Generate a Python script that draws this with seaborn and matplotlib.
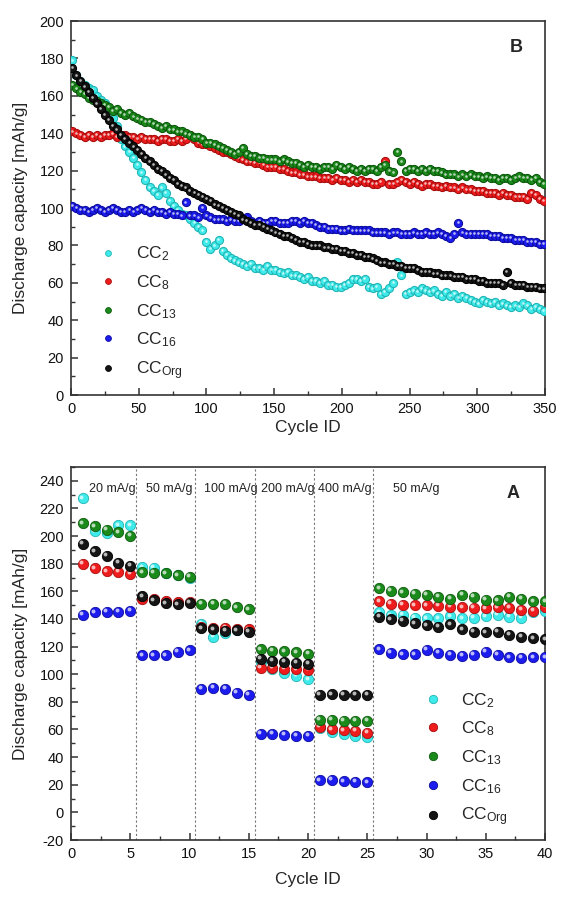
import numpy as np
import pandas as pd
import matplotlib
matplotlib.use("Agg")
import matplotlib.pyplot as plt
from matplotlib.lines import Line2D
from matplotlib.transforms import ScaledTranslation
from matplotlib.ticker import MultipleLocator
import seaborn as sns

sns.set_theme(style="white")
plt.rcParams["font.family"] = ["Liberation Sans", "DejaVu Sans"]
plt.rcParams["mathtext.fontset"] = "custom"
plt.rcParams["mathtext.rm"] = "Liberation Sans"
plt.rcParams["mathtext.it"] = "Liberation Sans:italic"
plt.rcParams["mathtext.bf"] = "Liberation Sans:bold"
plt.rcParams["axes.unicode_minus"] = False

# ---------------- data ----------------
series_names = ["CC2", "CC8", "CC13", "CC16", "CCOrg"]
series_labels = [r"CC$_{\mathrm{2}}$", r"CC$_{\mathrm{8}}$", r"CC$_{\mathrm{13}}$",
                 r"CC$_{\mathrm{16}}$", r"CC$_{\mathrm{Org}}$"]
colors = ["#3eeaea", "#ee1c1c", "#1a8a1a", "#1c1cee", "#151515"]
edge_colors = ["#22b5b5", "#a80e0e", "#0d5a0d", "#0c0ca0", "#000000"]

# Panel B: long-term cycling (every 3rd cycle)
cycles_long = list(range(1, 350, 3))
cc2_long = [179, 171, 168, 166, 164, 163, 160, 158, 156, 151,
            148, 144, 137, 133, 130, 127, 123, 119, 115, 111,
            109, 107, 111, 108, 104, 101, 99, 97, 96, 94,
            92, 90, 88, 82, 78, 80, 83, 77, 75, 73,
            72, 71, 70, 69, 70, 68, 68, 67, 69, 67,
            67, 66, 65, 66, 64, 64, 63, 62, 63, 61,
            61, 60, 61, 59, 59, 58, 58, 59, 60, 62,
            62, 61, 62, 58, 57, 58, 54, 55, 57, 60,
            71, 64, 54, 55, 56, 55, 57, 56, 55, 56,
            54, 53, 55, 53, 54, 52, 53, 52, 51, 50,
            49, 51, 50, 49, 50, 48, 49, 48, 47, 48,
            47, 49, 48, 46, 47, 46, 45]
cc8_long = [141, 140, 139, 138, 139, 138, 139, 138, 139, 139,
            140, 138, 139, 139, 138, 138, 137, 138, 137, 137,
            137, 136, 137, 137, 136, 136, 137, 136, 137, 139,
            137, 135, 134, 134, 133, 132, 131, 130, 130, 129,
            128, 127, 126, 125, 125, 124, 124, 123, 122, 122,
            122, 121, 121, 120, 119, 119, 118, 118, 117, 117,
            117, 116, 116, 116, 115, 116, 115, 115, 114, 115,
            114, 115, 114, 114, 113, 113, 114, 125, 113, 113,
            114, 115, 114, 113, 114, 113, 112, 113, 113, 112,
            112, 111, 112, 111, 111, 110, 111, 110, 110, 109,
            109, 109, 108, 108, 108, 107, 108, 107, 107, 106,
            106, 106, 105, 108, 107, 105, 104]
cc13_long = [166, 164, 162, 161, 159, 158, 157, 156, 155, 154,
             152, 153, 151, 150, 151, 149, 148, 147, 146, 146,
             145, 144, 143, 144, 142, 142, 141, 141, 140, 139,
             138, 138, 137, 135, 135, 134, 133, 132, 131, 130,
             129, 130, 132, 129, 128, 128, 127, 127, 126, 126,
             126, 125, 126, 125, 124, 124, 123, 122, 123, 122,
             122, 121, 122, 122, 121, 123, 122, 121, 122, 121,
             120, 121, 120, 121, 121, 120, 122, 123, 120, 119,
             130, 125, 120, 121, 121, 120, 121, 120, 121, 120,
             120, 119, 118, 118, 118, 117, 118, 117, 118, 117,
             117, 116, 117, 116, 116, 115, 116, 116, 115, 116,
             117, 116, 116, 115, 116, 114, 113]
cc16_long = [101, 100, 99, 99, 98, 99, 100, 99, 98, 99,
             100, 99, 98, 98, 99, 98, 99, 100, 99, 98,
             99, 98, 98, 97, 98, 97, 97, 96, 103, 96,
             96, 95, 100, 96, 95, 94, 94, 94, 93, 94,
             93, 93, 94, 95, 93, 92, 93, 92, 92, 93,
             93, 92, 92, 92, 93, 93, 92, 93, 92, 92,
             91, 90, 90, 89, 89, 89, 88, 88, 89, 88,
             88, 88, 88, 88, 87, 87, 87, 87, 86, 87,
             87, 86, 86, 86, 87, 86, 86, 87, 86, 86,
             87, 86, 85, 84, 86, 92, 87, 86, 86, 86,
             86, 86, 86, 85, 85, 85, 84, 84, 84, 83,
             83, 83, 82, 82, 82, 81, 81]
ccorg_long = [175, 171, 168, 165, 162, 159, 156, 153, 150, 147,
              144, 142, 139, 137, 135, 133, 131, 129, 127, 125,
              123, 121, 120, 118, 116, 115, 113, 112, 111, 109,
              108, 107, 106, 105, 104, 102, 101, 100, 99, 98,
              97, 96, 94, 93, 92, 91, 91, 90, 89, 88,
              87, 86, 85, 85, 84, 83, 82, 82, 81, 80,
              80, 80, 79, 79, 78, 78, 77, 77, 76, 76,
              75, 75, 74, 74, 73, 72, 71, 71, 70, 70,
              69, 69, 68, 68, 68, 67, 66, 66, 66, 65,
              65, 64, 64, 64, 63, 63, 63, 62, 62, 62,
              61, 61, 60, 60, 60, 60, 59, 66, 60, 59,
              59, 59, 58, 58, 58, 57, 57]

# Panel A: rate capability
cycles_rate = list(range(1, 41))
cc2_rate = [227.3, 203.4, 202.4, 208, 208, 177.5, 177, 173, 171.7, 169.8,
            136.5, 127, 129.5, 132, 131.4, 108.9, 104.1, 101.2, 98.8, 96.4,
            61, 58, 57, 55, 54.5, 145, 142.8, 143.2, 141, 140.6,
            140.6, 142, 140.6, 140.8, 142, 143.2, 141.5, 141, 145, 146]
cc8_rate = [180, 176.8, 174.6, 174.2, 172.9, 154.8, 154.1, 152.9, 152.2, 152.4,
            134, 133.8, 133.8, 132.6, 132.6, 104.8, 104.6, 104.1, 103.6, 103.1,
            62, 60, 59.5, 59, 57.5, 152.9, 151, 150.2, 150, 149.8,
            149.5, 149, 148.3, 148.1, 147.8, 148.3, 148.1, 146.6, 145.9, 148.8]
cc13_rate = [209.2, 207.2, 204.6, 202.7, 200.2, 173.9, 173.4, 173.2, 171.7, 170.5,
             151, 151, 151, 148.6, 146.9, 118.1, 117.1, 116.7, 115.9, 115,
             67, 67, 66.5, 66.5, 66.5, 162.1, 160.4, 159.4, 158.2, 157.5,
             156, 154.8, 157.5, 156, 153.9, 153.6, 156, 154.8, 152.7, 152.7]
cc16_rate = [143.2, 144.7, 145.2, 145.2, 146.1, 113.8, 113.8, 113.8, 116.2, 117.4,
             89.6, 90.1, 89.6, 86.5, 85.3, 56.8, 56.8, 56.3, 55.3, 55.3,
             23.2, 23.5, 22.7, 22.2, 21.7, 117.9, 115.5, 114.5, 114.3, 117.6,
             115.5, 114, 113.3, 114, 116.2, 114, 112.3, 112.1, 112.3, 112.3]
ccorg_rate = [194.4, 188.9, 185.7, 180.7, 178.5, 156.3, 153.6, 151.2, 150.5, 151.9,
              133.1, 132.4, 131.4, 131.9, 130.7, 111.1, 109.9, 108.9, 108.2, 107.5,
              85.3, 85.5, 85.3, 85.3, 85, 141.5, 139.9, 138.6, 136.9, 135.5,
              134.3, 136, 132.6, 130.7, 130.4, 130.7, 128.5, 127, 126.1, 125.4]

rate_labels = ["20 mA/g", "50 mA/g", "100 mA/g", "200 mA/g", "400 mA/g", "50 mA/g"]
rate_label_x = [1.5, 6.3, 11.2, 16.0, 20.85, 27.2]
rate_boundaries = [5.5, 10.5, 15.5, 20.5, 25.5]

long_values = [cc2_long, cc8_long, cc13_long, cc16_long, ccorg_long]
rate_values = [cc2_rate, cc8_rate, cc13_rate, cc16_rate, ccorg_rate]

df_long = pd.concat([pd.DataFrame({"cycle": cycles_long, "capacity": v, "series": n})
                     for n, v in zip(series_names, long_values)], ignore_index=True)
df_rate = pd.concat([pd.DataFrame({"cycle": cycles_rate, "capacity": v, "series": n})
                     for n, v in zip(series_names, rate_values)], ignore_index=True)

# ---------------- figure ----------------
fig = plt.figure(figsize=(5.61, 8.97), dpi=100)
axB = fig.add_axes([71 / 561, 1 - 395 / 897, 474 / 561, 374 / 897])
axA = fig.add_axes([71 / 561, 1 - 840 / 897, 474 / 561, 373 / 897])

spine_col = "#333333"


def style_axes(ax):
    for s in ax.spines.values():
        s.set_color(spine_col)
        s.set_linewidth(1.2)
        s.set_visible(True)
    ax.tick_params(which="both", direction="in", top=False, right=False,
                   left=True, bottom=True, colors=spine_col, labelcolor="#111111",
                   labelsize=10.5)
    ax.tick_params(which="major", length=5, width=1.1, pad=5)
    ax.tick_params(which="minor", length=3, width=1.0)
    ax.set_facecolor("white")


def draw_series(ax, df, size, hl_size, hl_off, lw):
    off = ScaledTranslation(-hl_off / 100, hl_off / 100, fig.dpi_scale_trans)
    for i, name in enumerate(series_names):
        sub = df[df["series"] == name]
        sns.scatterplot(data=sub, x="cycle", y="capacity", color=colors[i],
                        edgecolor=edge_colors[i], linewidth=lw, s=size,
                        ax=ax, legend=False, zorder=3 + i)
        ax.scatter(sub["cycle"], sub["capacity"], s=hl_size, color="white",
                   alpha=0.7, linewidths=0, zorder=3 + i,
                   transform=ax.transData + off)


def make_legend(ax, anchor, msize, fsize, spacing):
    handles = [Line2D([], [], marker="o", linestyle="", markerfacecolor=colors[i],
                      markeredgecolor=edge_colors[i], markeredgewidth=0.6,
                      markersize=msize) for i in range(5)]
    leg = ax.legend(handles, series_labels, loc="upper left", bbox_to_anchor=anchor,
                    frameon=False, fontsize=fsize, handlelength=1.0,
                    handletextpad=1.1, labelspacing=spacing, borderaxespad=0,
                    borderpad=0)
    leg.set_zorder(20)
    return leg


# ---- Panel B ----
style_axes(axB)
draw_series(axB, df_long, 34, 3.5, 0.7, 0.8)
axB.set_xlim(0, 350)
axB.set_ylim(0, 200)
axB.xaxis.set_major_locator(MultipleLocator(50))
axB.xaxis.set_minor_locator(MultipleLocator(25))
axB.yaxis.set_major_locator(MultipleLocator(20))
axB.yaxis.set_minor_locator(MultipleLocator(10))
axB.set_xlabel("Cycle ID", fontsize=12.5, labelpad=3)
axB.set_ylabel("Discharge capacity [mAh/g]", fontsize=12.5, labelpad=8)
axB.text(329, 186, "B", fontsize=13, fontweight="bold", ha="center", va="center")
make_legend(axB, (0.06, 0.402), 4.2, 12.5, 0.57)

# ---- Panel A ----
style_axes(axA)
for xb in rate_boundaries:
    axA.axvline(xb, color="#777777", linestyle=(0, (2, 2)), linewidth=0.8, zorder=1)
draw_series(axA, df_rate, 55, 8, 1.5, 0.6)
axA.set_xlim(0, 40)
axA.set_ylim(-20, 250)
axA.xaxis.set_major_locator(MultipleLocator(5))
axA.xaxis.set_minor_locator(MultipleLocator(2.5))
axA.yaxis.set_major_locator(MultipleLocator(20))
axA.yaxis.set_minor_locator(MultipleLocator(10))
axA.set_xlabel("Cycle ID", fontsize=12.5, labelpad=8)
axA.set_ylabel("Discharge capacity [mAh/g]", fontsize=12.5, labelpad=8)
for lbl, xl in zip(rate_labels, rate_label_x):
    axA.text(xl, 234, lbl, fontsize=9, ha="left", va="center", color="#222222")
axA.text(37.3, 231, "A", fontsize=13, fontweight="bold", ha="center", va="center")
make_legend(axA, (0.746, 0.400), 6.0, 12.5, 0.58)

fig.savefig("out.png", dpi=100)
